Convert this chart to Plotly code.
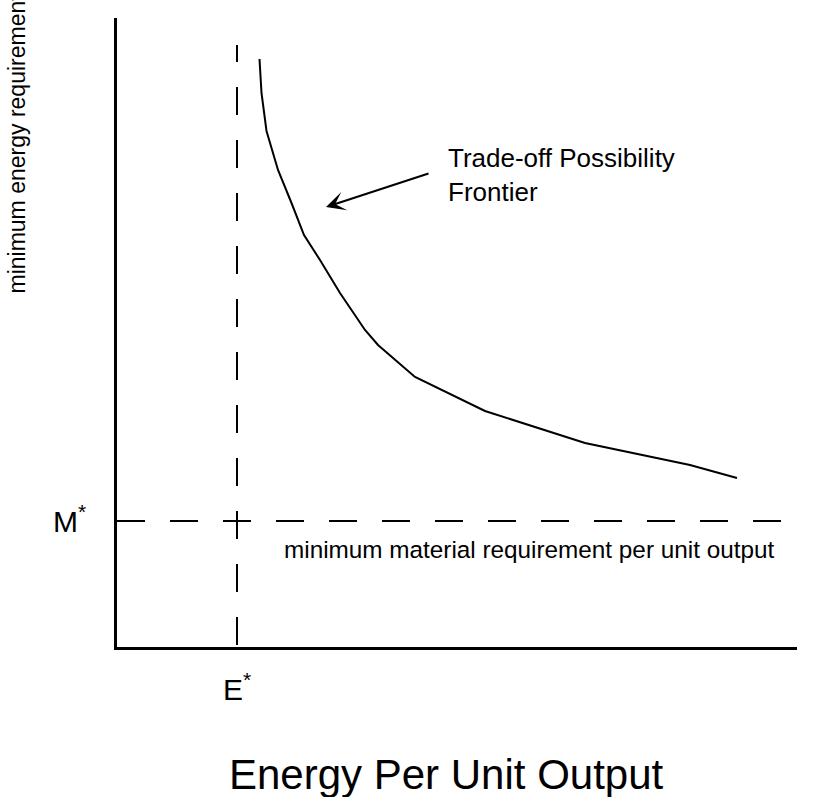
import plotly.graph_objects as go

# Trade-off possibility frontier (conceptual units)
frontier_x = [14.25, 14.45, 14.95, 16.1, 17.45, 18.7, 20.3, 22.3, 24.8, 26.1, 29.8, 36.8, 46.8, 57.3, 62.0]
frontier_y = [58.8, 55.4, 51.6, 47.7, 44.4, 41.2, 38.7, 35.4, 31.7, 30.2, 27.0, 23.6, 20.4, 18.2, 16.9]

e_star = 12.0       # minimum energy requirement
m_star = 12.6       # minimum material requirement
v_line_y = [0.2, 60.2]
h_line_x = [0.0, 67.3]

arrow_tail = (31.3, 47.4)
arrow_head = (20.9, 44.0)

FONT = "Liberation Sans, Arial, sans-serif"
DASH = "28px,25px"

W, H = 827, 797
ML, MR, MT, MB = 117, 30, 18, 150
PW, PH = W - ML - MR, H - MT - MB


def px_x(px):
    return (px - ML) / PW


def px_y(py):
    return (H - MB - py) / PH


fig = go.Figure()
fig.add_trace(go.Scatter(x=[e_star, e_star], y=v_line_y, mode="lines",
                         line=dict(color="black", width=2, dash=DASH), hoverinfo="skip"))
fig.add_trace(go.Scatter(x=h_line_x, y=[m_star, m_star], mode="lines",
                         line=dict(color="black", width=2, dash=DASH), hoverinfo="skip"))
fig.add_trace(go.Scatter(x=frontier_x, y=frontier_y, mode="lines",
                         line=dict(color="black", width=2), hoverinfo="skip"))

fig.add_annotation(x=arrow_head[0], y=arrow_head[1], ax=arrow_tail[0], ay=arrow_tail[1],
                   axref="x", ayref="y", xref="x", yref="y", text="",
                   showarrow=True, arrowhead=3, arrowsize=1.6, arrowwidth=2, arrowcolor="black")
fig.add_annotation(x=px_x(446), y=px_y(141), xref="paper", yref="paper", xanchor="left", yanchor="top",
                   text="Trade-off Possibility<br>Frontier", showarrow=False, align="left",
                   font=dict(family=FONT, size=26, color="black"))
fig.add_annotation(x=px_x(282), y=px_y(549), xref="paper", yref="paper", xanchor="left", yanchor="middle",
                   text="minimum material requirement per unit output", showarrow=False,
                   font=dict(family=FONT, size=24.3, color="black"))
fig.add_annotation(x=px_x(446), y=px_y(774), xref="paper", yref="paper", xanchor="center", yanchor="middle",
                   text="Energy Per Unit Output", showarrow=False,
                   font=dict(family=FONT, size=42, color="black"))
fig.add_annotation(x=px_x(16), y=px_y(296), xref="paper", yref="paper", xanchor="center", yanchor="bottom",
                   text="minimum energy requirement per unit output", showarrow=False, textangle=-90,
                   font=dict(family=FONT, size=23, color="black"))

fig.update_layout(
    width=W, height=H,
    margin=dict(l=ML, r=MR, t=MT, b=MB),
    paper_bgcolor="white", plot_bgcolor="white",
    showlegend=False,
    font=dict(family=FONT, color="black"),
    xaxis=dict(range=[0, 68], showgrid=False, zeroline=False, showline=True, automargin=False,
               linecolor="black", linewidth=2.5,
               tickvals=[e_star], ticktext=["E<sup>*</sup>"], ticks="", ticklabelstandoff=14,
               tickfont=dict(family=FONT, size=30, color="black")),
    yaxis=dict(range=[0, 62.9], showgrid=False, zeroline=False, showline=True, automargin=False,
               linecolor="black", linewidth=2.5,
               tickvals=[m_star], ticktext=["M<sup>*</sup>"], ticks="", ticklabelstandoff=22,
               tickfont=dict(family=FONT, size=30, color="black")),
)

fig.write_html("out.html", config={"displayModeBar": False},
               post_script="document.body.style.margin='0';document.body.style.overflow='hidden';")
